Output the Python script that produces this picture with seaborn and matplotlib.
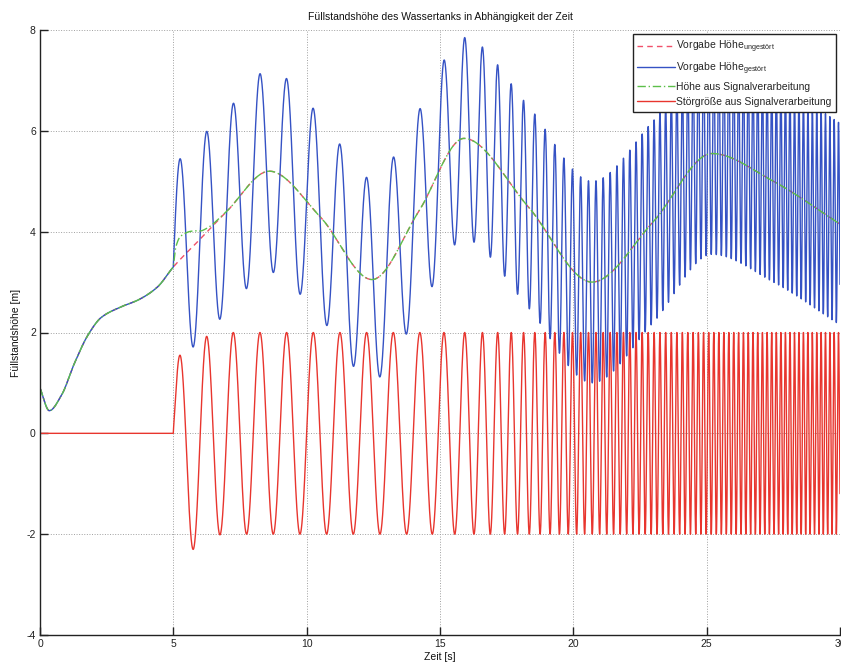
import numpy as np
import pandas as pd
import matplotlib
matplotlib.use("Agg")
import matplotlib.pyplot as plt
import seaborn as sns

# Undisturbed level set-point: support points (time [s], height [m])
base_t = [0.0, 0.35, 0.8, 1.3, 1.8, 2.3, 3.0, 3.7, 4.4, 5.0, 6.0, 7.0, 8.6,
          10.5, 12.45, 14.2, 15.9, 18.3, 20.7, 23.0, 25.2, 27.5, 30.0]
base_h = [0.9, 0.45, 0.75, 1.4, 1.95, 2.3, 2.5, 2.65, 2.9, 3.3, 3.85, 4.4, 5.2,
          4.3, 3.05, 4.4, 5.85, 4.5, 3.0, 4.2, 5.55, 5.0, 4.15]

# Disturbance: switched on at 5 s, amplitude 2 m, sweep frequency profile
dist_start = 5.0
dist_amp = 2.0
freq_t = [5.0, 14.0, 15.0, 16.0, 17.0, 18.0, 19.0, 20.0, 22.0, 25.0, 27.5, 30.0]
freq_hz = [1.0, 1.0, 1.15, 1.4, 1.8, 2.2, 2.7, 3.2, 4.2, 5.2, 5.8, 6.2]

# Estimation error of the signal processing right after the disturbance starts
err_t = [5.0, 5.1, 5.25, 5.5, 5.75, 6.1, 6.5, 7.0]
err_v = [0.0, -0.35, -0.45, -0.4, -0.3, -0.12, -0.03, 0.0]

labels = [r"Vorgabe Höhe$_{\mathregular{ungestört}}$",
          r"Vorgabe Höhe$_{\mathregular{gestört}}$",
          "Höhe aus Signalverarbeitung",
          "Störgröße aus Signalverarbeitung"]
colors = ["#f0506a", "#3552c4", "#5cbf4a", "#e8352e"]


def pchip(xk, yk, x):
    xk = np.asarray(xk, float)
    yk = np.asarray(yk, float)
    h = np.diff(xk)
    d = np.diff(yk) / h
    m = np.zeros_like(yk)
    for i in range(1, len(xk) - 1):
        if d[i - 1] * d[i] > 0:
            w1 = 2 * h[i] + h[i - 1]
            w2 = h[i] + 2 * h[i - 1]
            m[i] = (w1 + w2) / (w1 / d[i - 1] + w2 / d[i])
    m[0] = d[0]
    m[-1] = d[-1]
    idx = np.clip(np.searchsorted(xk, x) - 1, 0, len(h) - 1)
    s = (x - xk[idx]) / h[idx]
    h00 = 2 * s**3 - 3 * s**2 + 1
    h10 = s**3 - 2 * s**2 + s
    h01 = -2 * s**3 + 3 * s**2
    h11 = s**3 - s**2
    return (h00 * yk[idx] + h10 * h[idx] * m[idx]
            + h01 * yk[idx + 1] + h11 * h[idx] * m[idx + 1])


t = np.linspace(0, 30, 15001)
base = pchip(base_t, base_h, t)

f_inst = np.interp(t, freq_t, freq_hz)
on = t >= dist_start
phase = np.zeros_like(t)
dt = np.diff(t)
phase[1:] = np.cumsum(0.5 * (f_inst[1:] + f_inst[:-1]) * dt * on[1:])
dist = np.where(on, dist_amp * np.sin(2 * np.pi * phase), 0.0)

err = np.where((t >= err_t[0]) & (t <= err_t[-1]), pchip(err_t, err_v, t), 0.0)

disturbed = base + dist
est_height = base - err
est_dist = dist + err

series = [base, disturbed, est_height, est_dist]
styles = [dict(linestyle=(0, (4, 3))), dict(linestyle="-"),
          dict(linestyle=(0, (6, 2, 1, 2))), dict(linestyle="-")]

sns.set_theme(style="white")
plt.rcParams["font.family"] = ["Liberation Sans", "DejaVu Sans"]
plt.rcParams["mathtext.fontset"] = "custom"
plt.rcParams["mathtext.rm"] = "Liberation Sans"
plt.rcParams["mathtext.it"] = "Liberation Sans:italic"
plt.rcParams["axes.unicode_minus"] = False

fig = plt.figure(figsize=(8.41, 6.65), dpi=100)
ax = fig.add_axes([40 / 841, 30 / 665, 800 / 841, 605 / 665])

for y, lab, col, st in zip(series, labels, colors, styles):
    df = pd.DataFrame({"t": t, "y": y})
    sns.lineplot(data=df, x="t", y="y", ax=ax, color=col, linewidth=1.0,
                 label=lab, estimator=None, sort=False, **st)

ax.set_xlim(0, 30)
ax.set_ylim(-4, 8)
ax.set_xticks([0, 5, 10, 15, 20, 25, 30])
ax.set_yticks([-4, -2, 0, 2, 4, 6, 8])
ax.grid(True, linestyle=":", color="#a0a0a0", linewidth=0.7)
for side in ["top", "right"]:
    ax.spines[side].set_visible(False)
for side in ["left", "bottom"]:
    ax.spines[side].set_color("#222222")
    ax.spines[side].set_linewidth(1.0)
ax.tick_params(direction="in", length=6, width=1.0, colors="#222222",
               labelsize=7.5, pad=3, bottom=True, left=True)

ax.set_title("Füllstandshöhe des Wassertanks in Abhängigkeit der Zeit",
             fontsize=7.5, pad=7, color="#111111")
ax.set_xlabel("Zeit [s]", fontsize=7.5, labelpad=2, color="#111111")
ax.set_ylabel("Füllstandshöhe [m]", fontsize=7.5, labelpad=4, color="#111111")

leg = ax.legend(loc="upper right", bbox_to_anchor=(0.998, 0.997),
                fontsize=7.5, frameon=True, fancybox=False, framealpha=1,
                edgecolor="#222222", handlelength=3.6, handletextpad=0.15,
                borderpad=0.45, labelspacing=0.5, borderaxespad=0.2)
leg.get_frame().set_linewidth(1.0)

fig.savefig("out.png", dpi=100)
